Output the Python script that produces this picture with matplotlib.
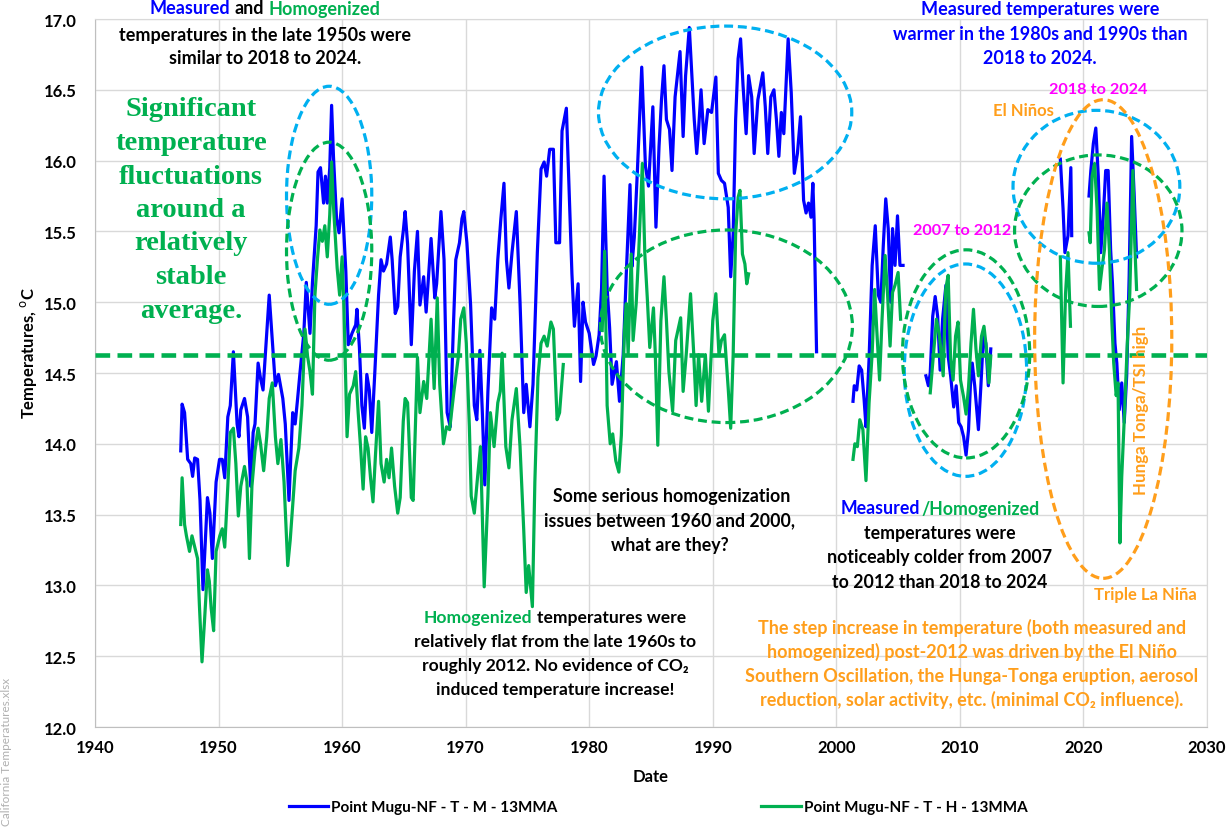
import numpy as np
import matplotlib
matplotlib.use('Agg')
import matplotlib.pyplot as plt
from matplotlib.patches import Ellipse

### Data (13-month moving averages)
nan = np.nan

meas_year = [
    1946.94, 1947.05, 1947.25, 1947.5, 1947.75, 1947.9, 1948.07, 1948.3, 1948.5, 1948.74,
    1949.1, 1949.3, 1949.5, 1949.8, 1950.08, 1950.3, 1950.5, 1950.75, 1950.95, 1951.2,
    1951.5, 1951.65, 1951.8, 1952.1, 1952.35, 1952.6, 1952.8, 1952.95, 1953.2, 1953.4,
    1953.6, 1953.8, 1954.1, 1954.35, 1954.6, 1954.85, 1955.2, 1955.4, 1955.7, 1956.0,
    1956.2, 1956.4, 1956.6, 1956.9, 1957.1, 1957.4, 1957.6, 1957.9, 1958.05, 1958.25,
    1958.5, 1958.65, 1958.8, 1959.0, 1959.15, 1959.3, 1959.55, 1959.75, 1960.0, 1960.3,
    1960.5, 1960.8, 1961.1, 1961.2, 1961.4, 1961.6, 1961.8, 1962.0, 1962.2, 1962.4,
    1962.65, 1962.95, 1963.15, 1963.35, 1963.6, 1963.9, 1964.05, 1964.3, 1964.5, 1964.7,
    1964.96, 1965.1, 1965.3, 1965.6, 1965.85, 1966.1, 1966.3, 1966.6, 1966.8, 1967.2,
    1967.5, 1967.65, 1968.0, 1968.25, 1968.5, 1968.75, 1969.0, 1969.2, 1969.5, 1969.7,
    1969.85, 1970.1, 1970.4, 1970.7, 1970.9, 1971.15, 1971.35, 1971.55, 1971.8, 1972.1,
    1972.35, 1972.6, 1972.85, 1973.1, 1973.3, 1973.5, 1973.75, 1974.1, 1974.4, 1974.7,
    1974.9, 1975.2, 1975.45, 1975.8, 1976.1, 1976.35, 1976.55, 1976.8, 1977.1, 1977.3,
    1977.6, 1977.8, 1978.15, 1978.35, 1978.6, 1978.8, 1979.1, 1979.3, 1979.5, 1979.7,
    1980.0, 1980.35, 1980.55, 1980.8, 1981.0, 1981.2, 1981.45, 1981.65, 1981.85, 1982.2,
    1982.45, 1982.75, 1983.0, 1983.3, 1983.45, 1983.65, 1983.9, 1984.25, 1984.55, 1984.8,
    1985.15, 1985.4, 1985.65, 1985.85, 1986.05, 1986.25, 1986.5, 1986.7, 1986.95, 1987.35,
    1987.6, 1987.8, 1988.1, 1988.35, 1988.5, 1988.7, 1988.85, 1989.05, 1989.3, 1989.6,
    1989.9, 1990.25, 1990.45, 1990.7, 1990.95, 1991.25, 1991.45, 1991.65, 1991.85, 1992.05,
    1992.25, 1992.45, 1992.7, 1992.9, 1993.15, 1993.35, 1993.65, 1994.05, 1994.25, 1994.45,
    1994.7, 1994.95, 1995.15, 1995.35, 1995.55, 1995.75, 1996.1, 1996.35, 1996.6, 1996.85,
    1997.1, 1997.35, 1997.55, 1997.75, 1997.95, 1998.1, 1998.2, 1998.4, 1999.9,
    2001.35, 2001.45, 2001.65, 2001.85, 2002.05, 2002.25, 2002.4, 2002.65, 2002.9, 2003.15,
    2003.4, 2003.6, 2003.8, 2004.0, 2004.2, 2004.4, 2004.55, 2004.75, 2004.95, 2005.15,
    2005.4, 2006.3,
    2007.25, 2007.45, 2007.6, 2007.8, 2008.0, 2008.2, 2008.4, 2008.6, 2008.87, 2009.05,
    2009.25, 2009.5, 2009.7, 2009.9, 2010.1, 2010.3, 2010.5, 2010.7, 2010.85, 2011.0,
    2011.2, 2011.5, 2011.7, 2011.9, 2012.1, 2012.3, 2012.5, 2015.0,
    2018.13, 2018.35, 2018.5, 2018.75, 2018.98, 2019.05, 2019.7,
    2020.45, 2020.6, 2020.8, 2021.0, 2021.2, 2021.4, 2021.6, 2021.8, 2022.0, 2022.2,
    2022.35, 2022.55, 2022.7, 2022.9, 2023.1, 2023.3, 2023.5, 2023.7, 2023.9, 2024.1,
    2024.3,
]
meas_temp = [
    13.95, 14.28, 14.22, 13.89, 13.86, 13.77, 13.90, 13.89, 13.60, 12.97,
    13.62, 13.51, 13.19, 13.73, 13.89, 13.89, 13.76, 14.19, 14.27, 14.65,
    14.14, 14.05, 14.24, 14.32, 14.19, 13.70, 14.08, 14.14, 14.57, 14.46,
    14.38, 14.65, 15.05, 14.73, 14.41, 14.49, 14.32, 14.14, 13.60, 14.22,
    14.14, 14.32, 14.51, 14.78, 15.14, 14.78, 15.14, 15.54, 15.92, 15.95,
    15.70, 15.89, 15.70, 15.95, 16.39, 16.03, 15.59, 15.49, 15.73, 15.22,
    14.70, 14.78, 14.84, 14.95, 14.68, 14.27, 14.11, 14.49, 14.38, 14.08,
    14.51, 15.05, 15.30, 15.22, 15.27, 15.46, 15.30, 14.92, 14.97, 15.32,
    15.51, 15.64, 15.41, 14.70, 15.22, 15.50, 14.98, 15.18, 14.93, 15.45,
    15.03, 15.13, 15.64, 15.30, 14.22, 14.12, 14.81, 15.30, 15.42, 15.59,
    15.64, 15.42, 14.98, 14.27, 14.17, 14.66, 14.22, 13.71, 14.37, 14.96,
    14.88, 15.30, 15.59, 15.84, 15.30, 15.10, 15.35, 15.64, 15.00, 14.22,
    14.42, 14.12, 14.42, 15.35, 15.94, 15.99, 15.89, 16.08, 16.08, 15.42,
    15.42, 16.21, 16.37, 15.84, 15.20, 14.83, 15.13, 14.44, 15.00, 14.86,
    14.78, 14.56, 14.62, 14.77, 15.10, 15.89, 15.10, 14.82, 14.42, 14.58,
    14.30, 14.63, 15.20, 15.83, 15.25, 15.46, 15.93, 16.66, 15.96, 15.82,
    16.38, 15.53, 16.10, 16.43, 16.67, 16.29, 16.22, 15.93, 16.45, 16.77,
    16.17, 16.60, 16.94, 16.53, 16.29, 16.05, 16.22, 16.50, 16.12, 16.36,
    16.34, 16.59, 15.91, 15.86, 15.84, 15.67, 15.18, 15.48, 16.29, 16.72,
    16.86, 16.53, 16.19, 16.60, 16.45, 16.05, 16.43, 16.62, 16.38, 16.05,
    16.45, 16.50, 16.29, 16.03, 16.34, 16.19, 16.86, 16.48, 15.91, 16.05,
    16.31, 15.72, 15.63, 15.70, 15.60, 15.84, 15.58, 14.65, nan,
    14.30, 14.41, 14.38, 14.55, 14.52, 14.31, 14.12, 14.60, 15.26, 15.54,
    15.05, 15.00, 15.40, 15.73, 15.52, 15.00, 15.52, 15.26, 15.61, 15.26,
    15.26, nan,
    14.48, 14.41, 14.50, 14.90, 15.04, 14.90, 14.52, 14.88, 15.12, 14.62,
    14.48, 14.26, 14.41, 14.15, 14.12, 14.05, 13.92, 14.10, 14.41, 14.57,
    14.41, 14.10, 14.41, 14.76, 14.71, 14.41, 14.67, nan,
    16.01, 15.66, 15.35, 15.47, 15.95, 15.47, nan,
    15.75, 15.93, 16.12, 16.23, 15.89, 15.35, 15.60, 15.93, 15.93, 15.37,
    15.13, 14.71, 14.57, 14.24, 14.43, 14.15, 14.48, 15.18, 16.17, 15.77,
    15.32,
]

homog_year = [
    1946.94, 1947.05, 1947.25, 1947.4, 1947.65, 1947.85, 1948.3, 1948.45, 1948.66, 1948.85,
    1949.1, 1949.25, 1949.4, 1949.6, 1949.8, 1950.1, 1950.3, 1950.5, 1950.75, 1950.95,
    1951.2, 1951.4, 1951.6, 1951.8, 1952.1, 1952.3, 1952.5, 1952.7, 1952.95, 1953.2,
    1953.4, 1953.65, 1953.9, 1954.1, 1954.35, 1954.6, 1954.8, 1955.05, 1955.3, 1955.6,
    1955.8, 1956.05, 1956.2, 1956.5, 1956.75, 1957.0, 1957.2, 1957.4, 1957.6, 1957.8,
    1958.0, 1958.2, 1958.4, 1958.6, 1958.8, 1959.0, 1959.15, 1959.3, 1959.6, 1959.8,
    1960.0, 1960.15, 1960.4, 1960.6, 1960.9, 1961.1, 1961.3, 1961.5, 1961.7, 1961.9,
    1962.1, 1962.3, 1962.5, 1962.7, 1962.95, 1963.15, 1963.4, 1963.6, 1963.8, 1964.0,
    1964.25, 1964.5, 1964.7, 1964.95, 1965.1, 1965.3, 1965.6, 1965.75, 1966.1, 1966.3,
    1966.6, 1966.85, 1967.2, 1967.45, 1967.7, 1967.9, 1968.2, 1968.45, 1968.7, 1969.05,
    1969.4, 1969.6, 1969.85, 1970.05, 1970.3, 1970.45, 1970.7, 1971.0, 1971.2, 1971.5,
    1971.8, 1972.0, 1972.3, 1972.6, 1972.8, 1972.95, 1973.25, 1973.5, 1973.75, 1974.1,
    1974.4, 1974.7, 1974.9, 1975.1, 1975.4, 1975.6, 1975.85, 1976.1, 1976.35, 1976.6,
    1976.9, 1977.1, 1977.4, 1977.6, 1977.9, 1979.5,
    1981.05, 1981.25, 1981.45, 1981.7, 1981.9, 1982.15, 1982.4, 1982.6, 1982.85, 1983.0,
    1983.15, 1983.4, 1983.55, 1983.8, 1984.0, 1984.3, 1984.5, 1984.7, 1984.9, 1985.2,
    1985.35, 1985.55, 1985.8, 1986.05, 1986.25, 1986.45, 1986.75, 1987.0, 1987.4, 1987.6,
    1987.85, 1988.2, 1988.45, 1988.65, 1988.85, 1989.1, 1989.4, 1989.65, 1990.0, 1990.25,
    1990.5, 1990.7, 1990.95, 1991.25, 1991.45, 1991.65, 1991.85, 1992.05, 1992.2, 1992.4,
    1992.6, 1992.75, 1992.9, 1997.0,
    2001.35, 2001.5, 2001.7, 2001.9, 2002.15, 2002.4, 2002.65, 2002.9, 2003.1, 2003.3,
    2003.5, 2003.7, 2003.95, 2004.15, 2004.35, 2004.55, 2004.75, 2005.0, 2005.2, 2006.3,
    2007.6, 2007.85, 2008.1, 2008.35, 2008.65, 2008.85, 2009.05, 2009.25, 2009.45, 2009.65,
    2009.85, 2010.05, 2010.3, 2010.5, 2010.7, 2010.9, 2011.1, 2011.3, 2011.5, 2011.75,
    2011.95, 2012.15, 2012.35, 2012.5, 2015.0,
    2018.13, 2018.35, 2018.55, 2018.75, 2018.95, 2019.7,
    2020.45, 2020.55, 2020.7, 2020.9, 2021.1, 2021.3, 2021.5, 2021.7, 2021.9, 2022.1,
    2022.3, 2022.45, 2022.65, 2022.8, 2022.95, 2023.1, 2023.3, 2023.55, 2023.75, 2024.0,
    2024.15, 2024.3,
]
homog_temp = [
    13.43, 13.76, 13.43, 13.35, 13.24, 13.35, 13.19, 12.86, 12.46, 12.73,
    13.11, 13.03, 12.84, 12.68, 13.24, 13.35, 13.40, 13.27, 13.70, 14.08,
    14.11, 13.86, 13.49, 13.70, 13.84, 13.73, 13.19, 13.70, 13.95, 14.11,
    14.00, 13.81, 14.05, 14.32, 14.43, 14.05, 13.86, 14.03, 13.73, 13.14,
    13.32, 13.62, 13.81, 13.97, 14.27, 14.81, 14.62, 14.51, 14.35, 15.05,
    15.30, 15.51, 15.43, 15.54, 15.32, 15.62, 15.99, 15.68, 15.24, 15.05,
    15.32, 14.95, 14.05, 14.35, 14.41, 14.51, 14.22, 13.97, 13.68, 14.05,
    13.97, 13.76, 13.59, 13.92, 14.30, 13.86, 13.73, 13.89, 13.76, 13.97,
    13.70, 13.51, 13.62, 14.16, 14.32, 14.29, 13.62, 13.60, 14.61, 14.22,
    14.44, 14.32, 14.88, 14.39, 15.03, 14.42, 14.00, 14.12, 14.10, 14.37,
    14.61, 14.88, 14.96, 14.71, 14.12, 13.63, 13.51, 13.80, 13.98, 12.99,
    13.63, 14.22, 13.98, 14.29, 14.37, 14.64, 13.98, 13.83, 14.17, 14.39,
    13.98, 13.39, 12.95, 13.14, 12.85, 13.73, 14.47, 14.71, 14.76, 14.69,
    14.86, 14.81, 14.17, 14.22, 14.56, nan,
    14.80, 15.36, 14.27, 14.00, 14.07, 13.88, 13.80, 14.06, 14.80, 14.99,
    14.63, 15.34, 14.73, 14.99, 15.34, 15.98, 15.34, 15.03, 14.68, 14.96,
    14.63, 13.99, 14.87, 15.18, 14.87, 14.51, 14.23, 14.73, 14.89, 14.37,
    14.63, 15.06, 14.65, 14.27, 14.63, 14.30, 14.63, 14.23, 14.87, 15.06,
    14.63, 14.73, 14.77, 14.39, 14.11, 14.63, 15.48, 15.74, 15.79, 15.34,
    15.27, 15.13, 15.20, nan,
    13.89, 14.00, 13.98, 14.17, 14.10, 13.74, 14.29, 14.64, 15.09, 14.76,
    14.45, 14.88, 15.33, 15.05, 14.69, 15.07, 15.12, 15.21, 14.88, nan,
    14.36, 14.62, 14.88, 14.76, 14.48, 15.09, 15.19, 14.60, 14.45, 14.76,
    14.86, 14.45, 14.33, 14.21, 14.40, 14.71, 14.95, 14.67, 14.48, 14.76,
    14.83, 14.67, 14.43, 14.62, nan,
    15.32, 14.43, 15.06, 15.35, 14.83, nan,
    15.49, 15.42, 15.89, 15.98, 15.66, 15.09, 15.24, 15.37, 15.70, 15.37,
    14.86, 14.57, 14.34, 14.43, 13.30, 13.77, 14.17, 14.71, 15.06, 15.93,
    15.42, 15.09,
]

avg_temp = 14.63
xticks = list(range(1940, 2031, 10))
yticks = [12.0, 12.5, 13.0, 13.5, 14.0, 14.5, 15.0, 15.5, 16.0, 16.5, 17.0]
series_labels = ['Point Mugu-NF - T - M - 13MMA', 'Point Mugu-NF - T - H - 13MMA']

BLUE = '#0000FF'
GREEN = '#00B050'
CYAN = '#00B0F0'
ORANGE = '#FF9E1B'
MAGENTA = '#FF00FF'
SANS = ['Lato', 'DejaVu Sans']

W, H = 1229, 829

def px(x, y):
    # reference pixel position -> figure fraction
    return x / W, 1 - y / H

fig = plt.figure(figsize=(W / 100, H / 100), dpi=100)
renderer = fig.canvas.get_renderer()

def line_text(x, y, parts, size=13, family=SANS, weight='bold', gap=None):
    # one centred line, pieces may have different colours
    kw = dict(fontsize=size, family=family, weight=weight, va='center', ha='left')
    texts = [fig.text(0, 0, s, color=c, **kw) for s, c in parts]
    widths = [t.get_window_extent(renderer).width for t in texts]
    if gap is None:
        a1 = fig.text(0, 0, 'a a', **kw)
        a2 = fig.text(0, 0, 'aa', **kw)
        gap = a1.get_window_extent(renderer).width - a2.get_window_extent(renderer).width
        a1.remove()
        a2.remove()
    x0 = x - (sum(widths) + gap * (len(texts) - 1)) / 2
    for t, w in zip(texts, widths):
        t.set_position(px(x0, y))
        x0 += w + gap

ax = fig.add_axes([95 / W, 1 - 728 / H, (1207 - 95) / W, (728 - 20) / H])

l1, = ax.plot(meas_year, meas_temp, color=BLUE, lw=2.3, zorder=3)
l2, = ax.plot(homog_year, homog_temp, color=GREEN, lw=2.3, zorder=4)
ax.axhline(avg_temp, color=GREEN, lw=3.3, ls=(0, (3.2, 1.6)), zorder=5)

# dashed circles
ell = [
    (1958.95, 15.755, 6.9, 1.54, CYAN),
    (1958.95, 15.36, 6.9, 1.54, GREEN),
    (1991.0, 16.34, 20.5, 1.22, CYAN),
    (1991.1, 14.83, 20.4, 1.36, GREEN),
    (2010.45, 14.52, 9.9, 1.5, CYAN),
    (2010.5, 14.635, 10.3, 1.47, GREEN),
    (2021.05, 15.815, 13.5, 1.08, CYAN),
    (2021.2, 15.505, 13.55, 1.07, GREEN),
    (2021.6, 14.74, 11.1, 3.38, ORANGE),
]
for cx, cy, w, h, c in ell:
    ax.add_patch(Ellipse((cx, cy), w, h, fill=False, ec=c, lw=2.3,
                         ls=(0, (2.8, 1.5)), zorder=6))

ax.set_xlim(1940, 2030)
ax.set_ylim(12, 17)
ax.set_xticks(xticks)
ax.set_yticks(yticks)
ax.set_yticklabels(['%.1f' % v for v in yticks])
ax.grid(True, color='#d9d9d9', lw=1.0)
ax.set_axisbelow(True)
for sp in ax.spines.values():
    sp.set_color('#d9d9d9')
ax.spines['bottom'].set_color('#bfbfbf')
ax.spines['left'].set_color('#bfbfbf')
ax.tick_params(length=0, labelsize=12)
ax.tick_params(axis='y', pad=13)
ax.tick_params(axis='x', pad=9)
for lab in ax.get_xticklabels() + ax.get_yticklabels():
    lab.set_family(SANS)
    lab.set_weight('bold')
ax.set_xlabel('Date', fontsize=12, family=SANS, weight='bold', labelpad=9)
ax.set_ylabel('Temperatures, $^{\\mathrm{o}}$C', fontsize=12, family=SANS, weight='bold')
ax.yaxis.set_label_coords(-0.05, 0.53)

fig.legend([l1, l2], series_labels, loc='center', bbox_to_anchor=px(658, 808), ncol=2,
           frameon=False, handlelength=2.6, handletextpad=0.2, columnspacing=13.3,
           prop=dict(family=SANS, weight='bold', size=11))

# annotations
line_text(265, 9, [('Measured', BLUE), ('and', 'black'), ('Homogenized', GREEN)])
line_text(265, 35, [('temperatures in the late 1950s were', 'black')])
line_text(265, 59, [('similar to 2018 to 2024.', 'black')])

for i, s in enumerate(['Significant', 'temperature', 'fluctuations', 'around a',
                       'relatively', 'stable', 'average.']):
    fig.text(*px(191, 110 + 33.5 * i), s, color=GREEN, fontsize=20.5,
             family='Liberation Serif', weight='bold', ha='center', va='center')

line_text(1040, 9, [('Measured temperatures were', BLUE)])
line_text(1040, 35, [('warmer in the 1980s and 1990s than', BLUE)])
line_text(1040, 59, [('2018 to 2024.', BLUE)])

line_text(1098, 90, [('2018 to 2024', MAGENTA)], size=11.7)
line_text(1023, 111, [('El Niños', ORANGE)], size=12)
line_text(962, 231, [('2007 to 2012', MAGENTA)], size=11.7)
fig.text(*px(1141, 410), 'Hunga Tonga/TSI high', color=ORANGE, fontsize=12.2, family=SANS,
         weight='bold', rotation=90, ha='center', va='center')
line_text(1145, 595, [('Triple La Niña', ORANGE)], size=12)

line_text(672, 497, [('Some serious homogenization', 'black')], size=12.8)
line_text(670, 521, [('issues between 1960 and 2000,', 'black')], size=12.8)
line_text(670, 546, [('what are they?', 'black')], size=12.8)

line_text(940, 509, [('Measured', BLUE), ('/Homogenized', GREEN)], size=12.8, gap=2)
line_text(940, 534, [('temperatures were', 'black')], size=12.8)
line_text(940, 558, [('noticeably colder from 2007', 'black')], size=12.8)
line_text(940, 583, [('to 2012 than 2018 to 2024', 'black')], size=12.8)

line_text(555, 618, [('Homogenized', GREEN), ('temperatures were', 'black')], size=12.6)
line_text(555, 642, [('relatively flat from the late 1960s to', 'black')], size=12.6)
line_text(555, 666, [('roughly 2012. No evidence of CO₂', 'black')], size=12.6)
line_text(555, 690, [('induced temperature increase!', 'black')], size=12.6)

line_text(972, 628, [('The step increase in temperature (both measured and', ORANGE)], size=13)
line_text(972, 652, [('homogenized) post-2012 was driven by the El Niño', ORANGE)], size=13)
line_text(972, 677, [('Southern Oscillation, the Hunga-Tonga eruption, aerosol', ORANGE)], size=13)
line_text(972, 700, [('reduction, solar activity, etc. (minimal CO₂ influence).', ORANGE)], size=13)

fig.text(*px(7, 826), 'California Temperatures.xlsx', color='#b0b0b0', fontsize=8.5,
         family=SANS, rotation=90, ha='center', va='bottom')

fig.savefig('out.png', dpi=100)
